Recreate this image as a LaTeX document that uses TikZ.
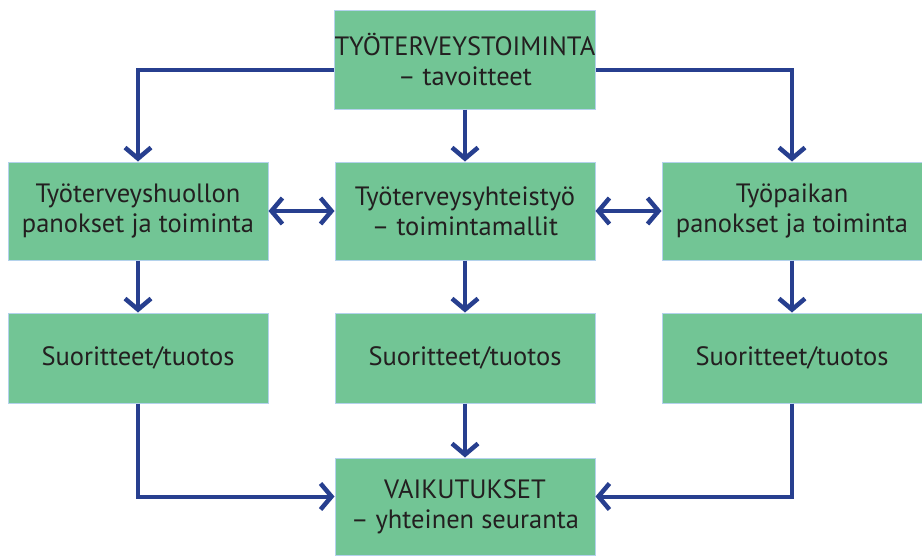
\documentclass[tikz,border=0pt]{standalone}
\usepackage{fontspec}
\setmainfont{PT Sans}
\usetikzlibrary{positioning,arrows.meta}
\definecolor{boxgreen}{HTML}{72C595}
\definecolor{boxedge}{HTML}{B4D2EC}
\definecolor{arrowblue}{HTML}{273F8F}
\definecolor{textgray}{HTML}{231F20}

\begin{document}
\begin{tikzpicture}[x=1pt,y=-1pt,>={Straight Barb[length=11pt,width=26pt,line width=4.5pt]}]
  \tikzstyle{box}=[draw=boxedge, line width=1pt, fill=boxgreen, text=textgray, align=center, minimum width=260pt, inner sep=0pt, font=\fontsize{26.5}{30}\selectfont]
  \tikzstyle{link}=[->, draw=arrowblue, line width=4pt]

  \useasboundingbox (0,0) rectangle (922,555);

  \node[box, minimum height=99pt] (tav) at (465,59.5) {TYÖTERVEYSTOIMINTA\\– tavoitteet};

  \node[box, minimum height=98pt] (huolto) at (138,211) {Työterveyshuollon\\panokset ja toiminta};
  \node[box, minimum height=98pt] (yht) at (465,211) {Työterveysyhteistyö\\– toimintamallit};
  \node[box, minimum height=98pt] (paikka) at (792,211) {Työpaikan\\panokset ja toiminta};

  \node[box, minimum height=90pt] (suor1) at (138,358) {Suoritteet/tuotos};
  \node[box, minimum height=90pt] (suor2) at (465,358) {Suoritteet/tuotos};
  \node[box, minimum height=90pt] (suor3) at (792,358) {Suoritteet/tuotos};

  \node[box, minimum height=97pt] (vaik) at (465,506.5) {VAIKUTUKSET\\– yhteinen seuranta};

  \draw[link] ([yshift=-10pt]tav.west) -| (huolto.north);
  \draw[link] ([yshift=-10pt]tav.east) -| (paikka.north);
  \draw[link] (tav) -- (yht);
  \draw[link, <->] (huolto) -- (yht);
  \draw[link, <->] (yht) -- (paikka);

  \draw[link] (huolto) -- (suor1);
  \draw[link] (yht) -- (suor2);
  \draw[link] (paikka) -- (suor3);

  \draw[link] (suor1) |- ([yshift=10pt]vaik.west);
  \draw[link] (suor2) -- (vaik);
  \draw[link] (suor3) |- ([yshift=10pt]vaik.east);
\end{tikzpicture}
\end{document}
